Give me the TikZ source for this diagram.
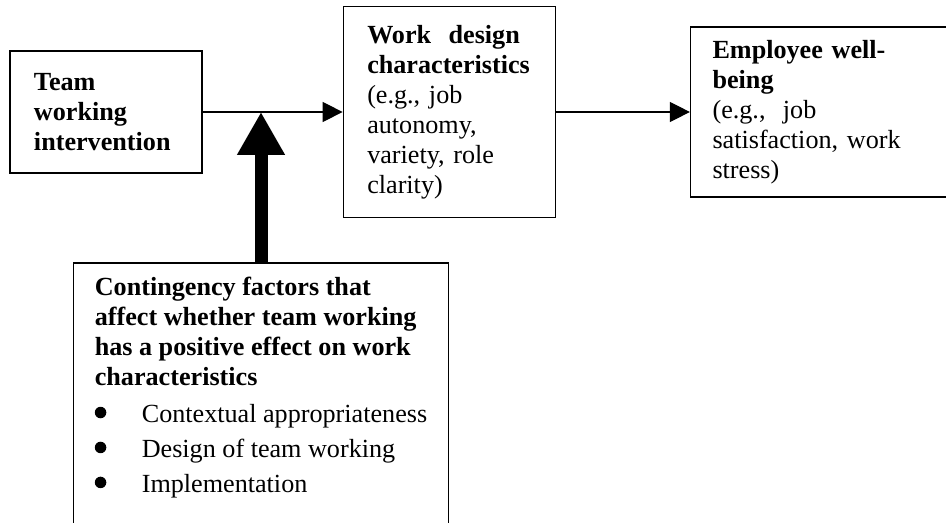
\documentclass[tikz,border=0pt]{standalone}
\usepackage{fontspec}
\setmainfont{Liberation Serif}
\usetikzlibrary{arrows.meta, positioning, calc}

% round list mark, about as tall as the x-height
\newcommand{\listdot}{\tikz[baseline=0pt]\fill (0,0.38em) circle (0.22em);}

\begin{document}
\begin{tikzpicture}[
    font=\fontsize{18.6}{21.3}\selectfont,
    box/.style={draw, line width=0.9pt, align=left},
    flow/.style={line width=0.8pt, -{Triangle[length=5mm, width=5mm]}}
]
    \useasboundingbox (0,0) rectangle (23.65,13.05);
    % Top row
    \node[box, text width=3.6cm, inner xsep=0.6cm, minimum height=3.05cm] (team) at (2.65,10.25)
        {\textbf{Team}\\ \textbf{working}\\ \textbf{intervention}};
    \node[box, text width=4.1cm, inner xsep=0.6cm, minimum height=5.275cm, right=3.5cm of team] (work)
        {\textbf{Work~~design}\\ \textbf{characteristics}\\ (e.g., job\\ autonomy,\\ variety, role\\ clarity)};
    \node[box, text width=5.3cm, inner xsep=0.55cm, minimum height=4.25cm, right=3.35cm of work] (wellbeing)
        {\textbf{Employee well-}\\ \textbf{being}\\ (e.g.,~~job\\ satisfaction, work\\ stress)};
    \draw[flow] (team) -- (work);
    \draw[flow] (work) -- (wellbeing);
    % Moderator box, runs off the bottom edge
    \node[align=left, anchor=north, inner xsep=0.525cm, inner ysep=0.35cm] (contingency) at (6.525,6.475)
        {\textbf{Contingency factors that}\\ \textbf{affect whether team working}\\
         \textbf{has a positive effect on work}\\ \textbf{characteristics}\\[0.175cm]
         \makebox[1.175cm][l]{\listdot}Contextual appropriateness\\[0.125cm]
         \makebox[1.175cm][l]{\listdot}Design of team working\\[0.125cm]
         \makebox[1.175cm][l]{\listdot}Implementation};
    \draw[line width=0.9pt] (contingency.north west) rectangle ($(contingency.south east)+(0,-1)$);
    \coordinate (hit) at (contingency.north |- team.east);
    \draw[line width=0.325cm, -{Triangle[length=1.075cm, width=1.125cm]}] (contingency.north) -- (hit);
\end{tikzpicture}
\end{document}
